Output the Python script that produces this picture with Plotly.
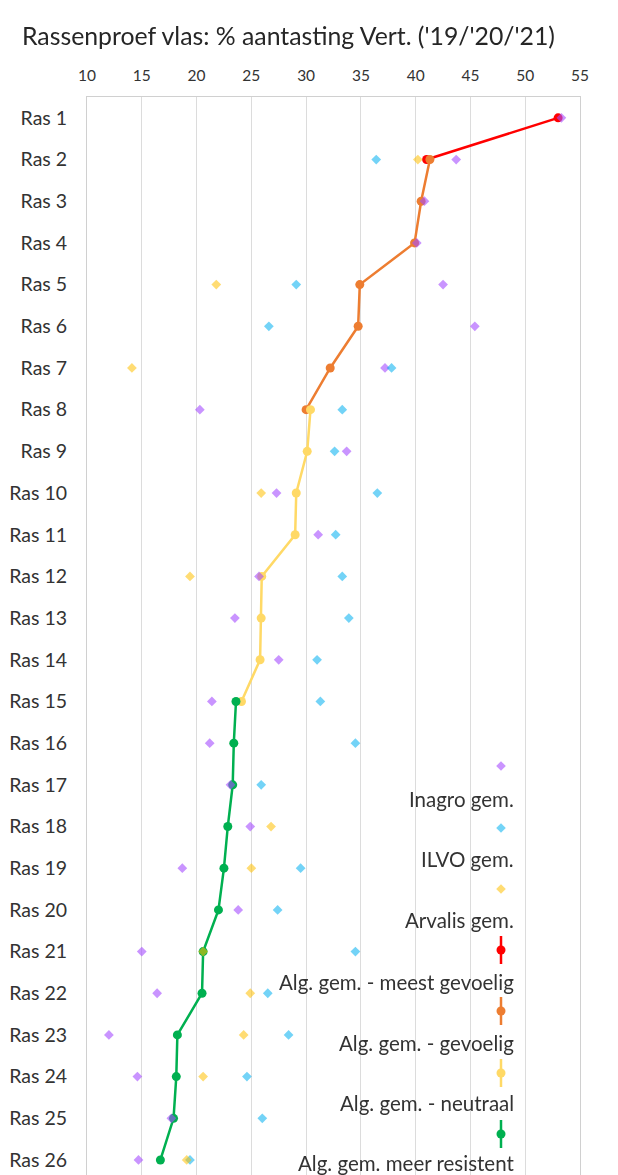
import plotly.graph_objects as go

categories = [f"Ras {i}" for i in range(1, 27)]

inagro = [53.3, 43.7, 40.8, 40.1, 42.5, 45.4, 37.2, 20.3, 33.7, 27.3, 31.1, 25.7, 23.5,
          27.5, 21.4, 21.2, 23.1, 24.9, 18.7, 23.8, 15.0, 16.4, 12.0, 14.6, 17.7, 14.7]
ilvo = [None, 36.4, None, None, 29.1, 26.6, 37.8, 33.3, 32.6, 36.5, 32.7, 33.3, 33.9,
        31.0, 31.3, 34.5, 25.9, None, 29.5, 27.4, 34.5, 26.5, 28.4, 24.6, 26.0, 19.4]
arvalis = [None, 40.2, None, None, 21.8, None, 14.1, None, None, 25.9, None, 19.4, None,
           None, None, None, None, 26.8, 25.0, None, 20.6, 24.9, 24.3, 20.6, None, 19.1]

meest_gevoelig = [53.0, 41.0] + [None] * 24
gevoelig = [None, 41.3, 40.5, 39.9, 34.9, 34.75, 32.2, 30.0] + [None] * 18
neutraal = [None] * 7 + [30.4, 30.1, 29.1, 29.0, 25.95, 25.9, 25.8, 24.1] + [None] * 11
resistent = [None] * 14 + [23.6, 23.4, 23.3, 22.85, 22.5, 22.0, 20.6, 20.5, 18.25, 18.15, 17.9, 16.7]

x_ticks = list(range(10, 56, 5))

FONT = "Lato"
W, H = 618, 1175
L, R, T = 87, 580, 97

fig = go.Figure()

line_series = [
    ("Alg. gem. - meest gevoelig", meest_gevoelig, "#FF0000"),
    ("Alg. gem. - gevoelig", gevoelig, "#ED7D31"),
    ("Alg. gem. - neutraal", neutraal, "#FFD966"),
    ("Alg. gem. meer resistent", resistent, "#00B050"),
]
for name, vals, col in line_series:
    fig.add_trace(go.Scatter(
        x=vals, y=categories, mode="lines+markers", name=name,
        line=dict(color=col, width=2.5),
        marker=dict(color=col, size=9, symbol="circle"),
        connectgaps=False, showlegend=False,
    ))

diamond_series = [
    ("Inagro gem.", inagro, "#A64DFF", 0.6),
    ("ILVO gem.", ilvo, "#00B0F0", 0.55),
    ("Arvalis gem.", arvalis, "#FFC000", 0.55),
]
for name, vals, col, op in diamond_series:
    fig.add_trace(go.Scatter(
        x=vals, y=categories, mode="markers", name=name,
        marker=dict(color=col, size=7.5, symbol="diamond", line=dict(width=0)),
        opacity=op, showlegend=False,
    ))

# custom legend (Excel style: glyph above right-aligned label)
def px_x(px):
    return (px - L) / (R - L)

def px_y(py):
    return (H - py) / (H - T)

shapes = []
annotations = []
gx = 501
legend_items = [
    ("Inagro gem.", "diamond", "#A64DFF", 0.6, 766, 799),
    ("ILVO gem.", "diamond", "#00B0F0", 0.55, 828, 859),
    ("Arvalis gem.", "diamond", "#FFC000", 0.55, 889, 920),
    ("Alg. gem. - meest gevoelig", "line", "#FF0000", 1, 950, 982),
    ("Alg. gem. - gevoelig", "line", "#ED7D31", 1, 1011, 1043),
    ("Alg. gem. - neutraal", "line", "#FFD966", 1, 1073, 1103),
    ("Alg. gem. meer resistent", "line", "#00B050", 1, 1134, 1163),
]
for label, kind, col, op, gy, ty in legend_items:
    if kind == "diamond":
        d = 4.8
        path = (f"M {px_x(gx - d)} {px_y(gy)} L {px_x(gx)} {px_y(gy - d)} "
                f"L {px_x(gx + d)} {px_y(gy)} L {px_x(gx)} {px_y(gy + d)} Z")
        shapes.append(dict(type="path", xref="paper", yref="paper", path=path,
                           fillcolor=col, opacity=op, line=dict(width=0)))
    else:
        shapes.append(dict(type="line", xref="paper", yref="paper",
                           x0=px_x(gx), x1=px_x(gx), y0=px_y(gy - 14), y1=px_y(gy + 14),
                           line=dict(color=col, width=2.5)))
        r = 4.5
        shapes.append(dict(type="circle", xref="paper", yref="paper",
                           x0=px_x(gx - r), x1=px_x(gx + r), y0=px_y(gy + r), y1=px_y(gy - r),
                           fillcolor=col, line=dict(width=0)))
    annotations.append(dict(text=label, xref="paper", yref="paper", x=px_x(516), y=px_y(ty),
                            xanchor="right", yanchor="middle", showarrow=False,
                            font=dict(family=FONT, size=20.5, color="#333333")))

fig.update_layout(
    width=W, height=H,
    margin=dict(l=L, r=W - R, t=T, b=0, pad=0),
    paper_bgcolor="white", plot_bgcolor="white",
    title=dict(text="Rassenproef vlas: % aantasting Vert. ('19/'20/'21)",
               x=22 / W, xanchor="left", xref="container",
               y=1 - 36 / H, yanchor="middle", yref="container",
               font=dict(family=FONT, size=24.8, color="#262626")),
    xaxis=dict(side="top", range=[10, 55], tickvals=x_ticks, ticks="",
               showgrid=True, gridcolor="#DCDCDC", gridwidth=1,
               showline=True, linecolor="#D0D0D0", linewidth=1, mirror=True,
               zeroline=False, tickfont=dict(family=FONT, size=15.5, color="#333333"),
               ticklabelstandoff=9),
    yaxis=dict(type="category", categoryorder="array", categoryarray=categories,
               range=[25.36, -0.5], showgrid=False, ticks="",
               showline=True, linecolor="#D0D0D0", linewidth=1, mirror=True,
               tickfont=dict(family=FONT, size=19.5, color="#333333"),
               ticklabelstandoff=15),
    shapes=shapes, annotations=annotations,
    showlegend=False,
)

fig.write_html("out.html", config={"displayModeBar": False},
               post_script="document.body.style.margin='0';")
